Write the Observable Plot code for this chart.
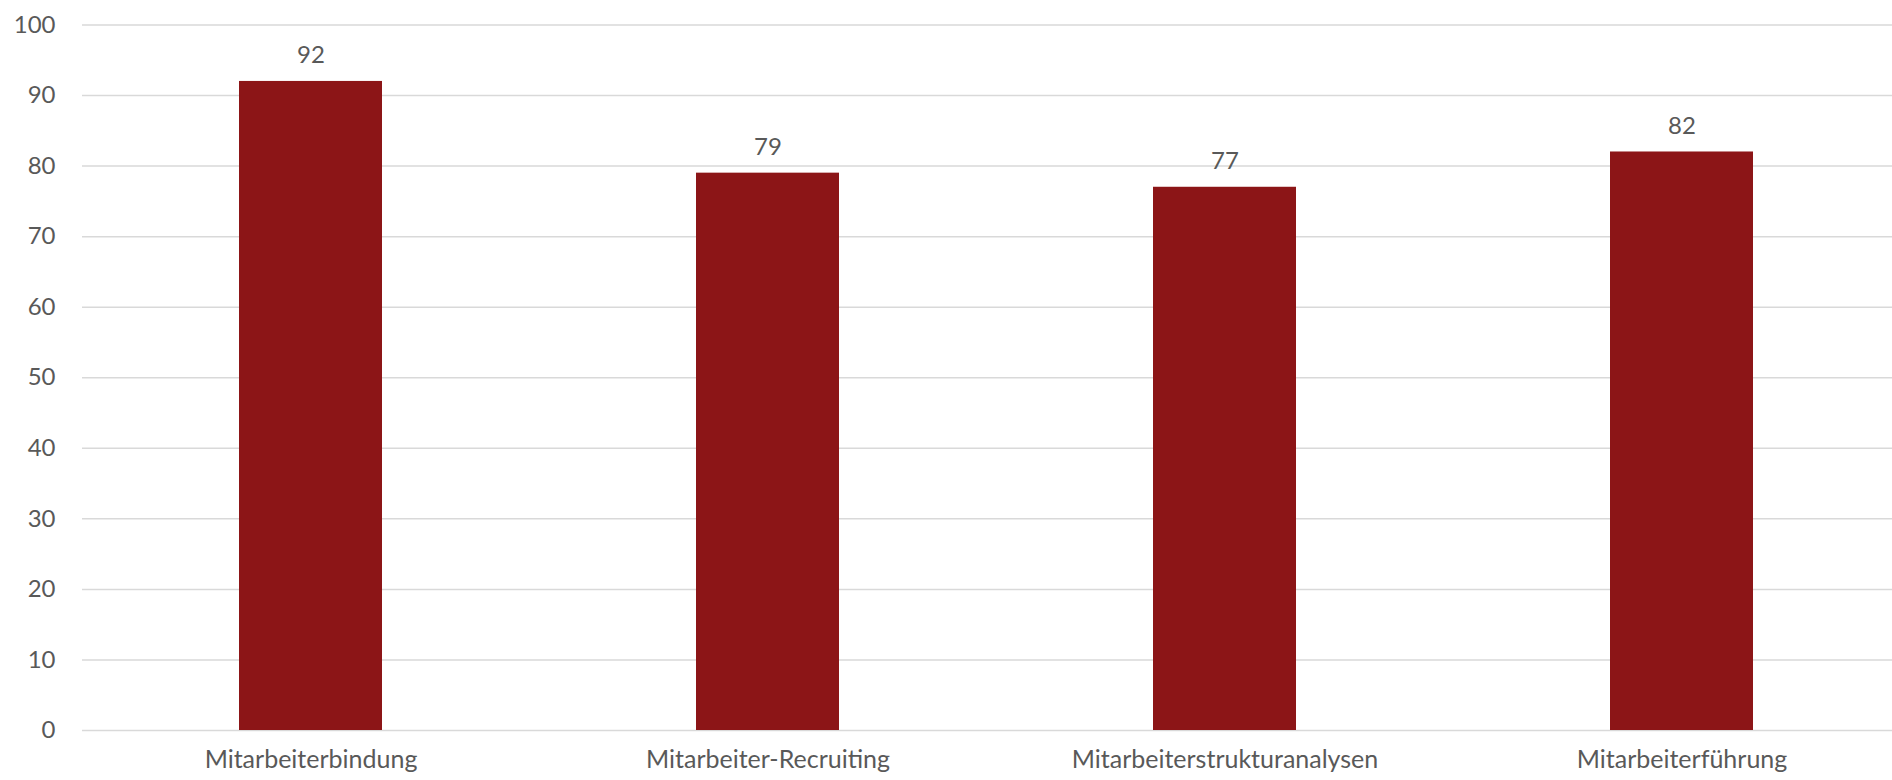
<!DOCTYPE html>
<html>
<head>
<meta charset="utf-8">
<script src="https://cdn.jsdelivr.net/npm/d3@7"></script>
<script src="https://cdn.jsdelivr.net/npm/@observablehq/plot@0.6"></script>
<style>
  html, body { margin: 0; padding: 0; background: #fff; }
</style>
</head>
<body>
<div id="chart"></div>
<script>
const categories = ["Mitarbeiterbindung", "Mitarbeiter-Recruiting", "Mitarbeiterstrukturanalysen", "Mitarbeiterführung"];
const values = [92, 79, 77, 82];
const yTicks = [0, 10, 20, 30, 40, 50, 60, 70, 80, 90, 100];

const data = categories.map((c, i) => ({category: c, value: values[i]}));

const chart = Plot.plot({
  width: 1892,
  height: 780,
  marginLeft: 82,
  marginRight: 0,
  marginTop: 24.5,
  marginBottom: 50,
  style: {fontFamily: "Lato, 'Open Sans', sans-serif", fontSize: "24px", color: "#595959", background: "#fff"},
  x: {domain: categories, range: [82, 1910], paddingInner: 0.687, paddingOuter: 0.3435, label: null},
  y: {domain: [0, 100], ticks: yTicks, label: null},
  marks: [
    Plot.ruleY(yTicks, {stroke: "#d9d9d9", strokeWidth: 1.5}),
    Plot.barY(data, {x: "category", y: "value", fill: "#8c1517"}),
    Plot.text(data, {x: "category", y: "value", text: d => String(d.value), dy: -26, fill: "#595959", fontSize: 24}),
    Plot.axisY({ticks: yTicks, tickSize: 0, tickPadding: 27, fontSize: 24, fill: "#595959"}),
    Plot.axisX({tickSize: 0, tickPadding: 20, fontSize: 25, fill: "#595959"})
  ]
});
document.getElementById("chart").appendChild(chart);
</script>
</body>
</html>
